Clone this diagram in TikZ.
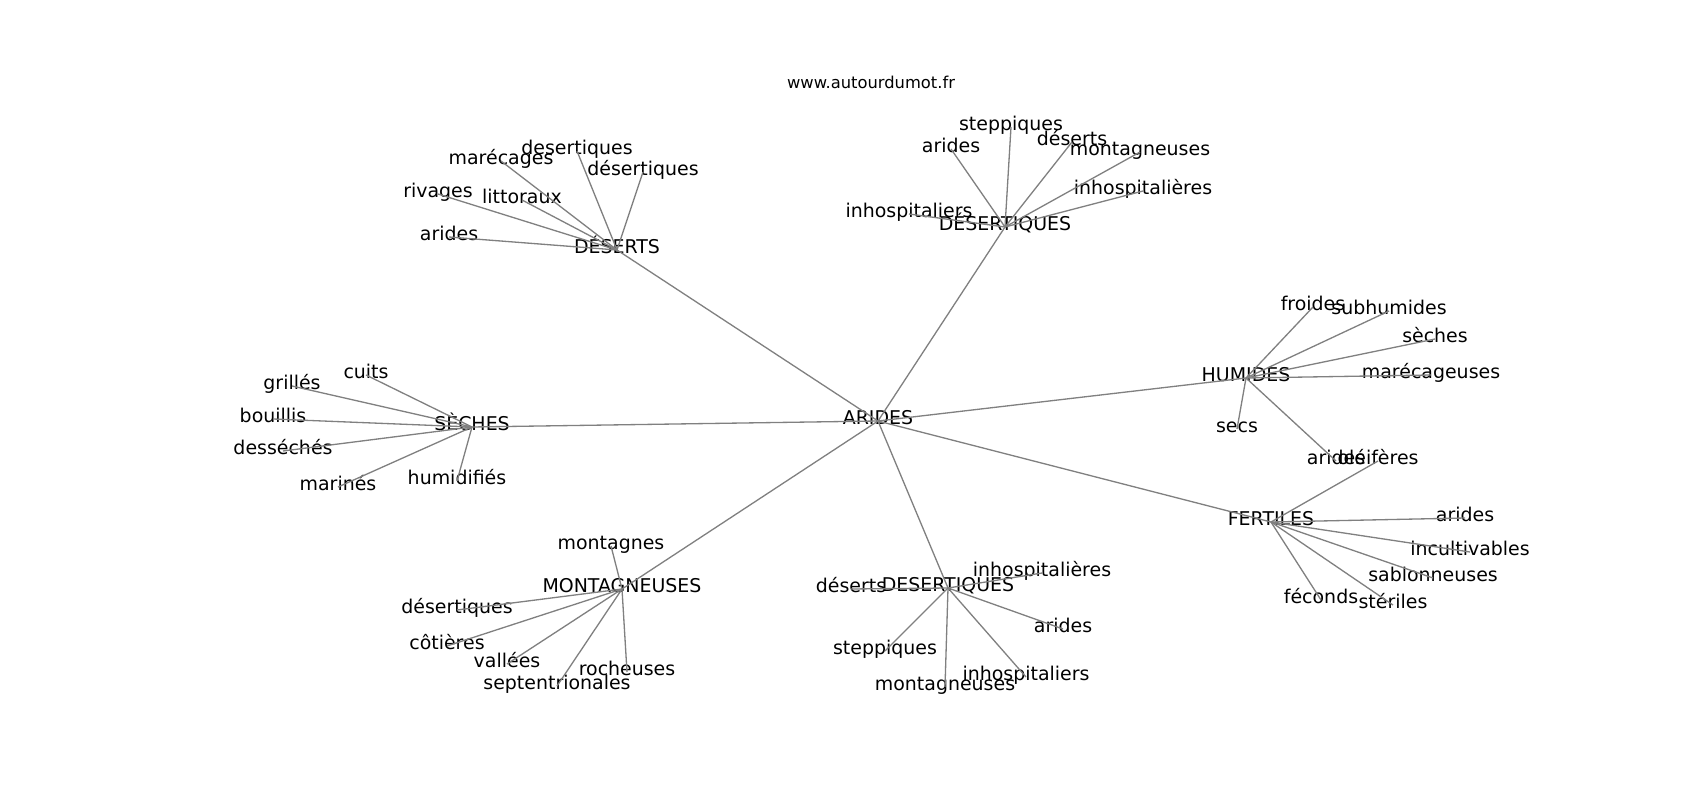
\documentclass[tikz,border=0pt]{standalone}
\usepackage{fontspec}
\setmainfont{DejaVu Sans}
\usepackage{xcolor}

\begin{document}
\begin{tikzpicture}[x=0.0254cm, y=-0.0254cm,
	word/.style={inner sep=0pt, text height=0.73em, text depth=0.24em, font=\fontsize{13.7}{16}\selectfont},
	edge/.style={line width=0.95pt, color=gray}]
	\useasboundingbox (0,0) rectangle (1700,800);

	\node[font=\fontsize{11.8}{14}\selectfont] (title) at (871,82) {www.autourdumot.fr};

	\begin{scope}[shift={(0,6)}]
	\node[word] (c) at (878,415) {ARIDES};

	% hubs
	\node[word] (a0) at (617,244) {DÉSERTS};
	\node[word] (b0) at (1005,221) {DÉSERTIQUES};
	\node[word] (h0) at (1246,372) {HUMIDES};
	\node[word] (f0) at (1271,516) {FERTILES};
	\node[word] (e0) at (948,582) {DESERTIQUES};
	\node[word] (m0) at (622,583) {MONTAGNEUSES};
	\node[word] (s0) at (472,421) {SÈCHES};

	% leaves of DÉSERTS
	\node[word] (a1) at (449,231) {arides};
	\node[word] (a2) at (438,188) {rivages};
	\node[word] (a3) at (522,194) {littoraux};
	\node[word] (a4) at (501,155) {marécages};
	\node[word] (a5) at (577,145) {desertiques};
	\node[word] (a6) at (643,166) {désertiques};

	% leaves of DÉSERTIQUES
	\node[word] (b1) at (909,208) {inhospitaliers};
	\node[word] (b2) at (951,143) {arides};
	\node[word] (b3) at (1011,121) {steppiques};
	\node[word] (b4) at (1072,136) {déserts};
	\node[word] (b5) at (1140,146) {montagneuses};
	\node[word] (b6) at (1143,185) {inhospitalières};

	% leaves of HUMIDES
	\node[word] (h1) at (1313,301) {froides};
	\node[word] (h2) at (1389,305) {subhumides};
	\node[word] (h3) at (1435,333) {sèches};
	\node[word] (h4) at (1431,369) {marécageuses};
	\node[word] (h5) at (1237,423) {secs};
	\node[word] (h6) at (1336,455) {arides};

	% leaves of FERTILES
	\node[word] (f1) at (1378,455) {oléifères};
	\node[word] (f2) at (1465,512) {arides};
	\node[word] (f3) at (1470,546) {incultivables};
	\node[word] (f4) at (1433,572) {sablonneuses};
	\node[word] (f5) at (1393,599) {stériles};
	\node[word] (f6) at (1321,594) {féconds};

	% leaves of DESERTIQUES
	\node[word] (e1) at (851,583) {déserts};
	\node[word] (e2) at (1042,567) {inhospitalières};
	\node[word] (e3) at (1063,623) {arides};
	\node[word] (e4) at (885,645) {steppiques};
	\node[word] (e5) at (945,681) {montagneuses};
	\node[word] (e6) at (1026,671) {inhospitaliers};

	% leaves of MONTAGNEUSES
	\node[word] (m1) at (611,540) {montagnes};
	\node[word] (m2) at (457,604) {désertiques};
	\node[word] (m3) at (447,640) {côtières};
	\node[word] (m4) at (507,658) {vallées};
	\node[word] (m5) at (557,680) {septentrionales};
	\node[word] (m6) at (627,666) {rocheuses};

	% leaves of SÈCHES
	\node[word] (s1) at (366,369) {cuits};
	\node[word] (s2) at (292,380) {grillés};
	\node[word] (s3) at (273,413) {bouillis};
	\node[word] (s4) at (283,445) {desséchés};
	\node[word] (s5) at (338,481) {marinés};
	\node[word] (s6) at (457,475) {humidifiés};

	% Draw the edges between nodes
	\foreach \h in {a0,b0,h0,f0,e0,m0,s0}
		\draw[edge] (c.center) -- (\h.center);
	\foreach \g in {a,b,h,f,e,m,s}
		\foreach \i in {1,...,6}
			\draw[edge] (\g0.center) -- (\g\i.center);
	\end{scope}
\end{tikzpicture}
\end{document}
